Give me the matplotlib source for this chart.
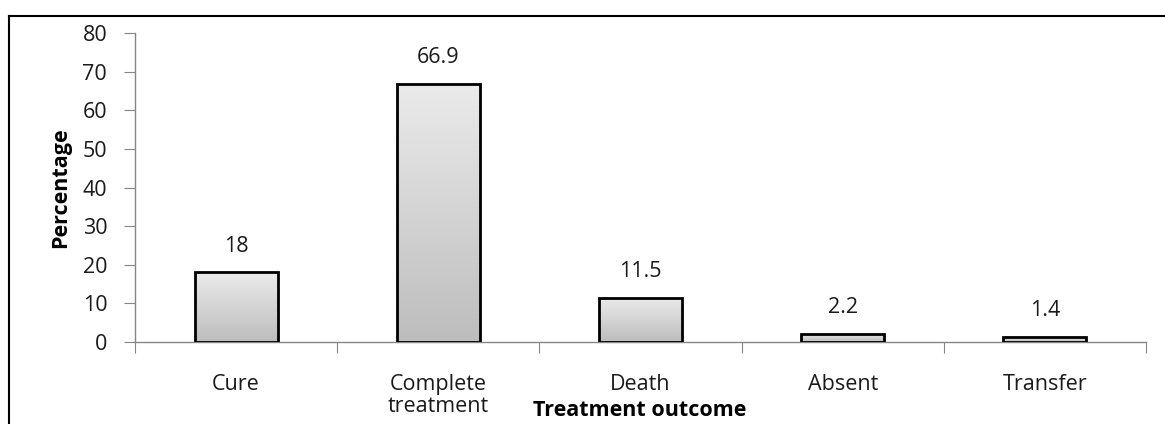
import matplotlib.pyplot as plt
import numpy as np
from matplotlib.colors import LinearSegmentedColormap
from matplotlib.lines import Line2D

categories = ['Cure', 'Complete\ntreatment', 'Death', 'Absent', 'Transfer']
values = [18, 66.9, 11.5, 2.2, 1.4]
value_labels = ['18', '66.9', '11.5', '2.2', '1.4']

plt.rcParams['font.family'] = ['Open Sans', 'DejaVu Sans']

W, H = 1165, 424
fig = plt.figure(figsize=(W / 100, H / 100), dpi=100)
ax = fig.add_axes([135 / W, 1 - 342 / H, (1146 - 135) / W, (342 - 33) / H])

x = np.arange(len(categories))
bars = ax.bar(x, values, width=0.41, facecolor='none', edgecolor='black', linewidth=2, zorder=3)

# vertical gradient inside each bar
cmap = LinearSegmentedColormap.from_list('g', ['#bdbdbd', '#ebebeb'])
grad = np.linspace(0, 1, 256).reshape(-1, 1)
for b in bars:
    x0, w, h = b.get_x(), b.get_width(), b.get_height()
    im = ax.imshow(grad, cmap=cmap, aspect='auto', origin='lower',
                   extent=[x0, x0 + w, 0, h], zorder=2)
    im.set_clip_path(b)

for xi, v, lab in zip(x, values, value_labels):
    ax.text(xi, v + 4, lab, ha='center', va='bottom', fontsize=15.5, color='#1a1a1a')

ax.set_xlim(-0.5, len(categories) - 0.5)
ax.set_ylim(0, 80)
ax.set_yticks(range(0, 81, 10))
ax.set_xticks(np.arange(-0.5, len(categories), 1))
ax.set_xticklabels([])
ax.set_xticks(x, minor=True)
ax.set_xticklabels(categories, minor=True, fontsize=15.5, color='#1a1a1a', linespacing=1.05)
ax.tick_params(axis='x', which='minor', length=0, pad=23)
ax.tick_params(axis='x', which='major', length=8, color='#868686', direction='out')
ax.tick_params(axis='y', length=8, color='#868686', labelsize=15.5, labelcolor='#1a1a1a', pad=12)

for s in ['top', 'right']:
    ax.spines[s].set_visible(False)
for s in ['left', 'bottom']:
    ax.spines[s].set_color('#868686')
    ax.spines[s].set_linewidth(1)

ax.set_ylabel('Percentage', fontsize=15.5, fontweight='bold', labelpad=8)
fig.text(640 / W, 1 - 411 / H, 'Treatment outcome', ha='center', va='center',
         fontsize=15.5, fontweight='bold')

# outer chart frame (left and top edges visible)
fig.add_artist(Line2D([9 / W, 9 / W], [0, 1 - 15.5 / H], transform=fig.transFigure, color='black', lw=1.5))
fig.add_artist(Line2D([9 / W, 1], [1 - 15.5 / H, 1 - 15.5 / H], transform=fig.transFigure, color='black', lw=1.5))

fig.savefig('out.png', dpi=100)
